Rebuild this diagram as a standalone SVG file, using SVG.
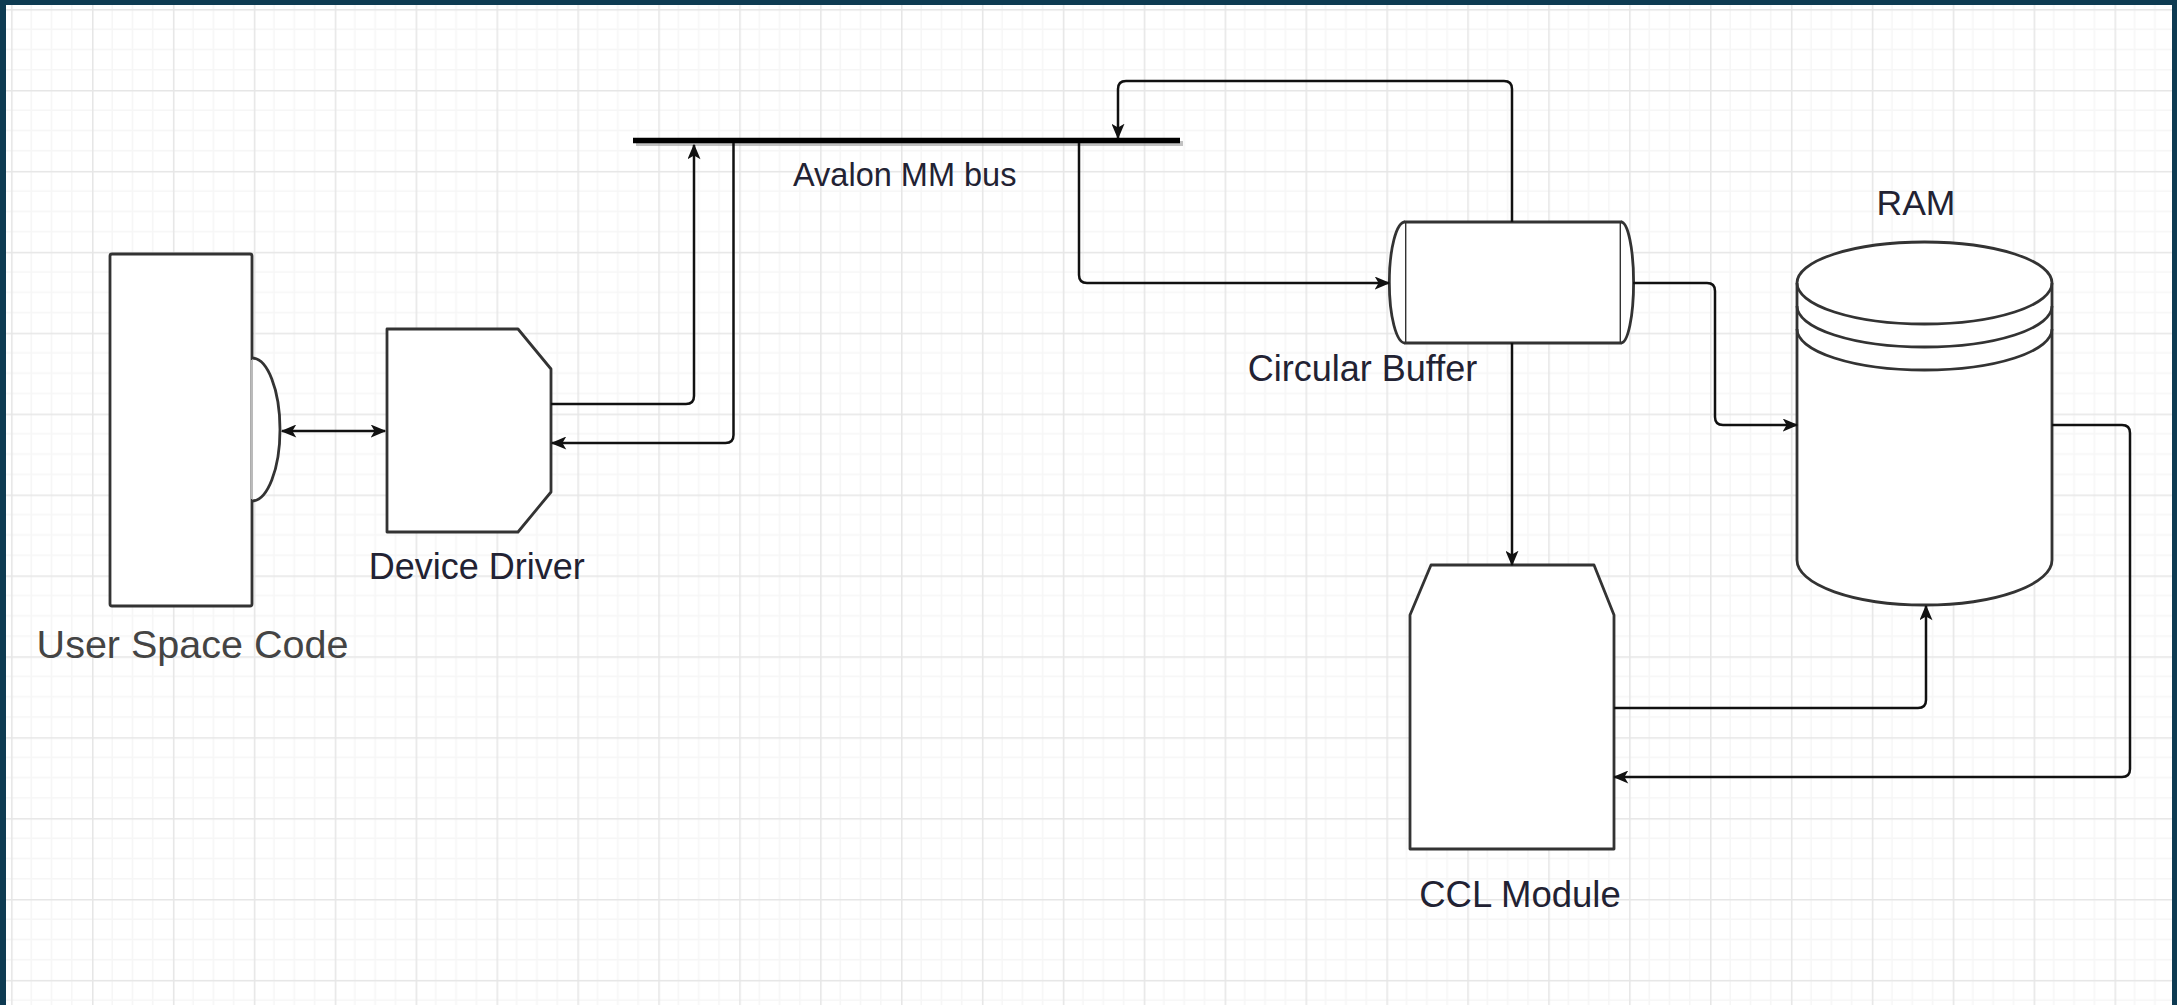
<svg xmlns="http://www.w3.org/2000/svg" width="2177" height="1005" viewBox="0 0 2177 1005">
  <defs>
    <pattern id="grid" patternUnits="userSpaceOnUse" x="11.1" y="9.1" width="80.9" height="80.9">
      <rect width="80.9" height="80.9" fill="#ffffff"/>
      <path d="M20.2,0 V80.9 M40.45,0 V80.9 M60.7,0 V80.9 M0,20.2 H80.9 M0,40.45 H80.9 M0,60.7 H80.9" stroke="#f6f6f6" stroke-width="1.5" fill="none"/>
      <path d="M0.75,0 V80.9 M0,0.75 H80.9" stroke="#e6e6e6" stroke-width="1.6" fill="none"/>
    </pattern>
    <marker id="arr" viewBox="0 0 12 10" refX="11" refY="5" markerWidth="16" markerHeight="13" orient="auto-start-reverse" markerUnits="userSpaceOnUse">
      <path d="M0,0 L12,5 L0,10 L3,5 Z" fill="#111"/>
    </marker>
    <style>
      .shape { fill: #ffffff; stroke: #333333; stroke-width: 2.8; stroke-linejoin: round; }
      .edge { fill: none; stroke: #111111; stroke-width: 2.5; }
      .lbl { font-family: "Liberation Sans", Arial, sans-serif; fill: #222233; text-anchor: middle; }
    </style>
  </defs>

  <rect x="0" y="0" width="2177" height="1005" fill="url(#grid)"/>
  <g id="frame" fill="#0e3b52">
    <rect x="0" y="0" width="6" height="1005"/>
    <rect x="0" y="0" width="2177" height="5"/>
    <rect x="2172" y="0" width="5" height="1005"/>
  </g>

  <g id="user-space-code">
    <rect class="shape" x="110" y="254" width="142" height="352" rx="2"/>
    <path d="M252,358 A28,71.5 0 0 1 252,501" class="shape"/>
    <line x1="252" y1="360" x2="252" y2="499" stroke="#bbbbbb" stroke-width="2"/>
    <text class="lbl" x="192.5" y="658" font-size="39.5" style="fill:#444444">User Space Code</text>
  </g>

  <g id="device-driver">
    <polygon class="shape" points="387,329 518,329 551,369 551,492 518,532 387,532"/>
    <text class="lbl" x="476.7" y="579" font-size="36">Device Driver</text>
  </g>

  <g id="avalon-bus">
    <line x1="636" y1="143.5" x2="1183" y2="143.5" stroke="#999999" stroke-width="5" opacity="0.6"/>
    <line x1="633" y1="140.5" x2="1180" y2="140.5" stroke="#000000" stroke-width="5.5"/>
    <text class="lbl" x="904.7" y="186" font-size="32.5">Avalon MM bus</text>
  </g>

  <g id="circular-buffer">
    <rect class="shape" x="1405" y="222" width="216" height="121"/>
    <path class="shape" d="M1405,222 A15.7,60.5 0 0 0 1405,343"/>
    <path class="shape" d="M1621,222 A12.6,60.5 0 0 1 1621,343"/>
    <text class="lbl" x="1362.5" y="381" font-size="36">Circular Buffer</text>
  </g>

  <g id="ram">
    <path class="shape" d="M1797,283 A127.5,41 0 0 1 2052,283 V560 A127.5,45 0 0 1 1797,560 Z"/>
    <path class="shape" style="fill:none" d="M1797,283 A127.5,41 0 0 0 2052,283 M1797,306 A127.5,41 0 0 0 2052,306 M1797,329 A127.5,41 0 0 0 2052,329"/>
    <text class="lbl" x="1916" y="215" font-size="35.5">RAM</text>
  </g>

  <g id="ccl-module">
    <polygon class="shape" points="1431,565 1594,565 1614,615 1614,849 1410,849 1410,615"/>
    <text class="lbl" x="1520" y="907" font-size="36.5">CCL Module</text>
  </g>

  <g id="connectors">
    <path class="edge" d="M282,431 H385" marker-start="url(#arr)" marker-end="url(#arr)"/>
    <path class="edge" d="M551,404 H686 Q694,404 694,396 V145" marker-end="url(#arr)"/>
    <path class="edge" d="M733.5,143 V435 Q733.5,443 725.5,443 H552" marker-end="url(#arr)"/>
    <path class="edge" d="M1079,143 V275 Q1079,283 1087,283 H1389" marker-end="url(#arr)"/>
    <path class="edge" d="M1512,222 V89 Q1512,81 1504,81 H1126 Q1118,81 1118,89 V138" marker-end="url(#arr)"/>
    <path class="edge" d="M1512,343 V565" marker-end="url(#arr)"/>
    <path class="edge" d="M1633,283 H1707 Q1715,283 1715,291 V417 Q1715,425 1723,425 H1797" marker-end="url(#arr)"/>
    <path class="edge" d="M2052,425 H2122 Q2130,425 2130,433 V769 Q2130,777 2122,777 H1614" marker-end="url(#arr)"/>
    <path class="edge" d="M1614,708 H1918 Q1926,708 1926,700 V606" marker-end="url(#arr)"/>
  </g>
</svg>
